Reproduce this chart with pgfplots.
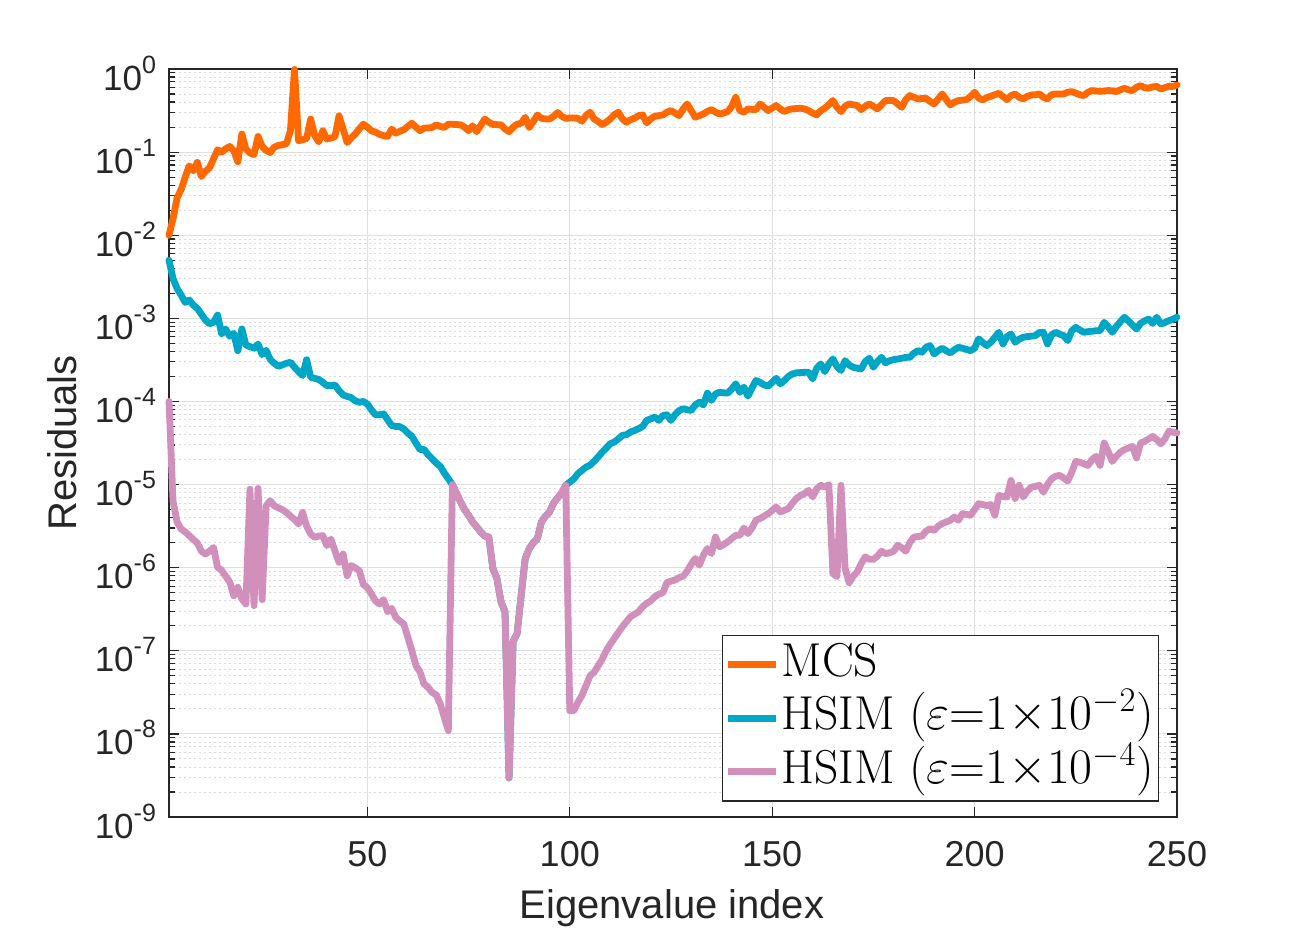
\documentclass[border=0pt]{standalone}
\usepackage{pgfplots}
\pgfplotsset{compat=1.18}
\usepackage{fontspec}
\newfontfamily\arial{Liberation Sans}
\definecolor{mcs}{RGB}{255,105,0}
\definecolor{hs2}{RGB}{0,166,198}
\definecolor{hs4}{RGB}{209,143,187}
\definecolor{axgray}{RGB}{38,38,38}
\definecolor{gridc}{RGB}{223,223,223}
\definecolor{mgridc}{RGB}{218,218,218}
\newcommand\tsup[1]{\raisebox{8.5pt}{\fontsize{12.5}{13}\selectfont #1}}
\begin{document}
\begin{tikzpicture}
\useasboundingbox (-84.5pt,-55pt) rectangle (566pt,408.5pt);
\begin{axis}[
  scale only axis, width=504pt, height=374pt,
  ymode=log, xmin=1, xmax=250, ymin=1e-9, ymax=1,
  clip=false,
  xtick={50,100,150,200,250},
  xticklabels={50,100,150,200,250},
  ytick={1e-9,1e-8,1e-7,1e-6,1e-5,1e-4,1e-3,1e-2,1e-1,1},
  yticklabels={10\tsup{-9},10\tsup{-8},10\tsup{-7},10\tsup{-6},10\tsup{-5},10\tsup{-4},10\tsup{-3},10\tsup{-2},10\tsup{-1},10\tsup{0}},
  xticklabel style={font=\arial\fontsize{18}{20}\selectfont, text=axgray, yshift=-8.5pt},
  yticklabel style={font=\arial\fontsize{17.5}{20}\selectfont, text=axgray, yshift=-2pt, xshift=-3pt},
  xmajorgrids, ymajorgrids, yminorgrids,
  major grid style={draw=gridc, line width=0.5pt},
  minor grid style={draw=mgridc, line width=0.45pt, dash pattern=on 1pt off 1.5pt},
  axis line style={draw=axgray, line width=0.6pt},
  tick style={draw=axgray, line width=0.6pt},
  major tick length=5pt, minor tick length=3pt,
  tick align=inside,
  xlabel={Eigenvalue index}, ylabel={Residuals},
  label style={font=\arial\fontsize{20}{22}\selectfont, text=axgray},
  xlabel style={at={(axis description cs:0.499,-0.136)}, anchor=base},
  ylabel style={at={(axis description cs:-0.0913,0.5)}, anchor=base},
  legend style={at={(0.9825,0.0205)}, anchor=south east, draw=axgray, line width=0.6pt,
    font=\fontsize{23.8}{29}\selectfont, inner xsep=1.2pt, inner ysep=1.25pt, row sep=0pt,
    nodes={inner sep=1.125pt, text height=18pt, text depth=6.55pt}},
  legend cell align=left,
  legend image code/.code={\draw[#1, line width=3.4pt, line cap=butt] (0pt,0pt) -- (24pt,0pt);},
  every axis plot/.append style={line width=3.4pt, line join=round, line cap=round},
]
\addplot[mcs] coordinates {
(1,1.0e-2) (2,1.58e-2) (3,2.82e-2) (4,3.55e-2) (5,5.0e-2) (6,6.84e-2) (7,5.96e-2) (8,7.52e-2) (9,5.09e-2) (10,5.9e-2)
(11,6.46e-2) (12,8.3e-2) (13,0.1067) (14,0.1) (15,0.1096) (16,0.117) (17,0.1038) (18,0.0766) (19,0.165) (20,0.1086)
(21,0.0977) (22,0.0933) (23,0.1545) (24,0.1175) (25,0.1047) (26,0.099) (27,0.1148) (28,0.1202) (29,0.123) (30,0.126)
(31,0.181) (32,0.99) (33,0.137) (34,0.141) (35,0.146) (36,0.25) (37,0.158) (38,0.133) (39,0.181) (40,0.1435)
(41,0.148) (42,0.153) (43,0.274) (44,0.19) (45,0.1306) (46,0.148) (47,0.165) (48,0.19) (49,0.217) (50,0.2)
(51,0.181) (52,0.174) (53,0.164) (54,0.158) (55,0.1545) (56,0.189) (57,0.169) (58,0.178) (59,0.186) (60,0.204)
(61,0.223) (62,0.2) (63,0.181) (64,0.1945) (65,0.195) (66,0.198) (67,0.213) (68,0.204) (69,0.198) (70,0.217)
(71,0.216) (72,0.215) (73,0.213) (74,0.2) (75,0.181) (76,0.207) (77,0.176) (78,0.209) (79,0.25) (80,0.229)
(81,0.215) (82,0.214) (83,0.213) (84,0.19) (85,0.176) (86,0.2) (87,0.217) (88,0.223) (89,0.262) (90,0.198)
(91,0.234) (92,0.279) (93,0.255) (94,0.251) (95,0.25) (96,0.269) (97,0.30) (98,0.27) (99,0.255) (100,0.257)
(101,0.257) (102,0.256) (103,0.2355) (104,0.275) (105,0.302) (106,0.251) (107,0.234) (108,0.215) (109,0.229) (110,0.251)
(111,0.282) (112,0.302) (113,0.251) (114,0.229) (115,0.245) (116,0.256) (117,0.275) (118,0.2805) (119,0.225) (120,0.251)
(121,0.27) (122,0.275) (123,0.28) (124,0.302) (125,0.316) (126,0.295) (127,0.275) (128,0.331) (129,0.38) (130,0.316)
(131,0.263) (132,0.275) (133,0.288) (134,0.309) (135,0.325) (136,0.302) (137,0.288) (138,0.295) (139,0.3076) (140,0.355)
(141,0.457) (142,0.316) (143,0.302) (144,0.331) (145,0.327) (146,0.325) (147,0.38) (148,0.347) (149,0.316) (150,0.339)
(151,0.363) (152,0.331) (153,0.3076) (154,0.324) (155,0.331) (156,0.335) (157,0.337) (158,0.331) (159,0.316) (160,0.295)
(161,0.2805) (162,0.316) (163,0.337) (164,0.372) (165,0.417) (166,0.347) (167,0.3076) (168,0.355) (169,0.38) (170,0.372)
(171,0.363) (172,0.325) (173,0.355) (174,0.38) (175,0.355) (176,0.331) (177,0.372) (178,0.417) (179,0.417) (180,0.417)
(181,0.38) (182,0.347) (183,0.427) (184,0.479) (185,0.457) (186,0.437) (187,0.4416) (188,0.445) (189,0.407) (190,0.38)
(191,0.437) (192,0.501) (193,0.427) (194,0.37) (195,0.398) (196,0.417) (197,0.422) (198,0.4285) (199,0.468) (200,0.525)
(201,0.447) (202,0.427) (203,0.452) (204,0.47) (205,0.49) (206,0.51) (207,0.468) (208,0.4285) (209,0.479) (210,0.501)
(211,0.457) (212,0.437) (213,0.468) (214,0.4875) (215,0.49) (216,0.501) (217,0.457) (218,0.437) (219,0.49) (220,0.501)
(221,0.501) (222,0.501) (223,0.525) (224,0.5346) (225,0.513) (226,0.49) (227,0.479) (228,0.525) (229,0.55) (230,0.543)
(231,0.54) (232,0.543) (233,0.55) (234,0.547) (235,0.535) (236,0.562) (237,0.586) (238,0.562) (239,0.55) (240,0.603)
(241,0.631) (242,0.596) (243,0.589) (244,0.61) (245,0.619) (246,0.575) (247,0.596) (248,0.619) (249,0.617) (250,0.643)
};
\addlegendentry{MCS}
\addplot[hs2] coordinates {
(1,5.0e-3) (2,3.0e-3) (3,2.29e-3) (4,1.9e-3) (5,1.556e-3) (6,1.66e-3) (7,1.445e-3) (8,1.318e-3) (9,1.12e-3) (10,9.55e-4)
(11,8.6e-4) (12,8.95e-4) (13,1.096e-3) (14,6.49e-4) (15,7.45e-4) (16,6.08e-4) (17,6.6e-4) (18,4.08e-4) (19,7.45e-4) (20,4.78e-4)
(21,4.57e-4) (22,4.37e-4) (23,4.9e-4) (24,3.66e-4) (25,4.12e-4) (26,3.21e-4) (27,2.88e-4) (28,2.65e-4) (29,2.75e-4) (30,2.88e-4)
(31,2.96e-4) (32,2.58e-4) (33,2.29e-4) (34,2.05e-4) (35,3.18e-4) (36,1.95e-4) (37,1.9e-4) (38,1.84e-4) (39,1.7e-4) (40,1.55e-4)
(41,1.55e-4) (42,1.58e-4) (43,1.35e-4) (44,1.2e-4) (45,1.15e-4) (46,1.11e-4) (47,1.02e-4) (48,9.77e-5) (49,1.0e-4) (50,9.33e-5)
(51,7.94e-5) (52,6.92e-5) (53,6.92e-5) (54,7.08e-5) (55,6.03e-5) (56,5.13e-5) (57,5.01e-5) (58,4.98e-5) (59,4.68e-5) (60,4.17e-5)
(61,3.8e-5) (62,3.16e-5) (63,2.64e-5) (64,2.64e-5) (65,2.29e-5) (66,2.04e-5) (67,1.82e-5) (68,1.66e-5) (69,1.38e-5) (70,1.175e-5)
(71,1.0e-5) (72,7.9e-6) (73,6.2e-6) (74,5.0e-6) (75,4.27e-6) (76,3.55e-6) (77,3.1e-6) (78,2.69e-6) (79,2.4e-6) (80,2.34e-6)
(81,9.8e-7) (82,7.4e-7) (83,3.9e-7) (84,2.95e-7) (85,2.95e-9) (86,1.29e-7) (87,1.62e-7) (88,4.68e-7) (89,1.29e-6) (90,1.7e-6)
(91,2.0e-6) (92,2.24e-6) (93,3.55e-6) (94,4.17e-6) (95,4.68e-6) (96,6.0e-6) (97,6.9e-6) (98,7.9e-6) (99,9.8e-6) (100,1.07e-5)
(101,1.17e-5) (102,1.35e-5) (103,1.48e-5) (104,1.62e-5) (105,1.71e-5) (106,1.9e-5) (107,2.15e-5) (108,2.45e-5) (109,2.75e-5) (110,3.1e-5)
(111,3.24e-5) (112,3.55e-5) (113,3.91e-5) (114,3.98e-5) (115,4.29e-5) (116,4.47e-5) (117,4.7e-5) (118,5.0e-5) (119,5.92e-5) (120,6.17e-5)
(121,6.49e-5) (122,5.92e-5) (123,6.76e-5) (124,6.92e-5) (125,5.92e-5) (126,6.92e-5) (127,7.76e-5) (128,8.17e-5) (129,7.94e-5) (130,7.8e-5)
(131,9.1e-5) (132,9.8e-5) (133,9.1e-5) (134,1.26e-4) (135,1.03e-4) (136,1.23e-4) (137,1.29e-4) (138,1.27e-4) (139,1.26e-4) (140,1.41e-4)
(141,1.63e-4) (142,1.29e-4) (143,1.49e-4) (144,1.16e-4) (145,1.45e-4) (146,1.79e-4) (147,1.7e-4) (148,1.58e-4) (149,1.53e-4) (150,1.7e-4)
(151,1.9e-4) (152,1.63e-4) (153,1.78e-4) (154,2.0e-4) (155,2.14e-4) (156,2.21e-4) (157,2.23e-4) (158,2.24e-4) (159,2.25e-4) (160,1.87e-4)
(161,2.51e-4) (162,2.83e-4) (163,2.29e-4) (164,2.82e-4) (165,3.25e-4) (166,2.63e-4) (167,2.36e-4) (168,3.1e-4) (169,2.75e-4) (170,2.58e-4)
(171,2.51e-4) (172,2.47e-4) (173,3.02e-4) (174,3.31e-4) (175,2.58e-4) (176,3.02e-4) (177,3.4e-4) (178,2.91e-4) (179,3.09e-4) (180,3.19e-4)
(181,3.24e-4) (182,3.31e-4) (183,3.39e-4) (184,3.4e-4) (185,3.8e-4) (186,4.09e-4) (187,3.91e-4) (188,4.47e-4) (189,4.7e-4) (190,3.73e-4)
(191,4.07e-4) (192,4.37e-4) (193,4.07e-4) (194,3.84e-4) (195,4.17e-4) (196,4.49e-4) (197,4.37e-4) (198,4.22e-4) (199,4.09e-4) (200,4.37e-4)
(201,5.65e-4) (202,5.13e-4) (203,4.7e-4) (204,5.15e-4) (205,5.89e-4) (206,6.79e-4) (207,4.92e-4) (208,6.03e-4) (209,6.49e-4) (210,5.15e-4)
(211,5.62e-4) (212,5.92e-4) (213,6.03e-4) (214,6.1e-4) (215,6.19e-4) (216,6.76e-4) (217,6.79e-4) (218,4.92e-4) (219,6.31e-4) (220,6.79e-4)
(221,6.46e-4) (222,6.19e-4) (223,5.4e-4) (224,7.08e-4) (225,7.8e-4) (226,7.24e-4) (227,6.79e-4) (228,6.92e-4) (229,7.0e-4) (230,7.08e-4)
(231,7.11e-4) (232,8.95e-4) (233,7.94e-4) (234,6.79e-4) (235,7.94e-4) (236,9.1e-4) (237,1.03e-3) (238,9.33e-4) (239,8.3e-4) (240,7.45e-4)
(241,8.7e-4) (242,9.33e-4) (243,9.8e-4) (244,8.7e-4) (245,1.03e-3) (246,8.55e-4) (247,8.9e-4) (248,9.38e-4) (249,9.77e-4) (250,1.03e-3)
};
\addlegendentry{HSIM $(\varepsilon{=}1{\times}10^{-2})$}
\addplot[hs4] coordinates {
(1,1.0e-4) (2,6.3e-6) (3,3.55e-6) (4,2.92e-6) (5,2.69e-6) (6,2.43e-6) (7,2.19e-6) (8,1.98e-6) (9,1.58e-6) (10,1.46e-6)
(11,1.58e-6) (12,1.75e-6) (13,1.01e-6) (14,9.3e-7) (15,7.9e-7) (16,6.76e-7) (17,4.6e-7) (18,5.8e-7) (19,4.2e-7) (20,3.66e-7)
(21,8.8e-6) (22,3.49e-7) (23,9.0e-6) (24,4.12e-7) (25,5.56e-6) (26,6.4e-6) (27,5.56e-6) (28,5.25e-6) (29,5.0e-6) (30,4.62e-6)
(31,4.17e-6) (32,3.8e-6) (33,3.35e-6) (34,4.62e-6) (35,3.16e-6) (36,2.54e-6) (37,2.32e-6) (38,2.4e-6) (39,2.43e-6) (40,1.84e-6)
(41,2.21e-6) (42,1.58e-6) (43,1.16e-6) (44,1.46e-6) (45,8.0e-7) (46,1.06e-6) (47,1.0e-6) (48,9.2e-7) (49,6.3e-7) (50,5.75e-7)
(51,4.82e-7) (52,3.98e-7) (53,3.66e-7) (54,4.12e-7) (55,2.96e-7) (56,3.24e-7) (57,2.53e-7) (58,2.29e-7) (59,2.1e-7) (60,1.45e-7)
(61,1.0e-7) (62,6.6e-8) (63,5.6e-8) (64,3.99e-8) (65,3.63e-8) (66,3.16e-8) (67,2.95e-8) (68,2.3e-8) (69,1.58e-8) (70,1.1e-8)
(71,1.0e-5) (72,7.9e-6) (73,6.2e-6) (74,5.0e-6) (75,4.27e-6) (76,3.55e-6) (77,3.1e-6) (78,2.69e-6) (79,2.4e-6) (80,2.34e-6)
(81,9.8e-7) (82,7.4e-7) (83,3.9e-7) (84,2.95e-7) (85,2.95e-9) (86,1.29e-7) (87,1.62e-7) (88,4.68e-7) (89,1.29e-6) (90,1.7e-6)
(91,2.0e-6) (92,2.24e-6) (93,3.55e-6) (94,4.17e-6) (95,4.68e-6) (96,6.0e-6) (97,6.9e-6) (98,7.9e-6) (99,9.8e-6) (100,1.9e-8)
(101,1.9e-8) (102,2.4e-8) (103,2.89e-8) (104,3.8e-8) (105,5.0e-8) (106,5.5e-8) (107,6.6e-8) (108,7.9e-8) (109,1.0e-7) (110,1.2e-7)
(111,1.41e-7) (112,1.66e-7) (113,1.95e-7) (114,2.24e-7) (115,2.57e-7) (116,2.75e-7) (117,2.95e-7) (118,3.39e-7) (119,3.72e-7) (120,3.98e-7)
(121,4.47e-7) (122,4.79e-7) (123,5.0e-7) (124,6.6e-7) (125,6.9e-7) (126,7.1e-7) (127,7.6e-7) (128,7.9e-7) (129,9.1e-7) (130,1.1e-6)
(131,1.29e-6) (132,1.07e-6) (133,1.41e-6) (134,1.7e-6) (135,1.48e-6) (136,2.34e-6) (137,1.78e-6) (138,1.9e-6) (139,2.04e-6) (140,2.24e-6)
(141,2.45e-6) (142,2.45e-6) (143,3.0e-6) (144,2.57e-6) (145,3.0e-6) (146,3.72e-6) (147,3.9e-6) (148,4.17e-6) (149,4.47e-6) (150,4.9e-6)
(151,5.37e-6) (152,4.68e-6) (153,4.9e-6) (154,5.13e-6) (155,6.0e-6) (156,6.8e-6) (157,7.4e-6) (158,7.8e-6) (159,8.5e-6) (160,7.1e-6)
(161,8.9e-6) (162,9.8e-6) (163,9.3e-6) (164,1.0e-5) (165,8.5e-7) (166,7.8e-7) (167,9.8e-6) (168,9.8e-7) (169,6.6e-7) (170,7.9e-7)
(171,8.9e-7) (172,1.12e-6) (173,1.35e-6) (174,1.26e-6) (175,1.26e-6) (176,1.38e-6) (177,1.58e-6) (178,1.48e-6) (179,1.51e-6) (180,1.58e-6)
(181,1.86e-6) (182,1.74e-6) (183,1.58e-6) (184,2.0e-6) (185,2.34e-6) (186,2.37e-6) (187,2.4e-6) (188,2.75e-6) (189,2.95e-6) (190,2.82e-6)
(191,3.16e-6) (192,3.39e-6) (193,3.55e-6) (194,3.72e-6) (195,4.07e-6) (196,3.72e-6) (197,4.47e-6) (198,4.37e-6) (199,4.27e-6) (200,5.0e-6)
(201,5.9e-6) (202,5.75e-6) (203,5.6e-6) (204,5.75e-6) (205,4.27e-6) (206,7.4e-6) (207,7.2e-6) (208,7.1e-6) (209,1.12e-5) (210,6.8e-6)
(211,9.8e-6) (212,7.1e-6) (213,8.3e-6) (214,9.3e-6) (215,9.5e-6) (216,9.8e-6) (217,8.1e-6) (218,1.0e-5) (219,1.17e-5) (220,1.26e-5)
(221,1.29e-5) (222,1.2e-5) (223,1.1e-5) (224,1.41e-5) (225,1.9e-5) (226,1.86e-5) (227,1.78e-5) (228,1.7e-5) (229,2.0e-5) (230,2.19e-5)
(231,1.7e-5) (232,3.16e-5) (233,2.51e-5) (234,1.9e-5) (235,2.19e-5) (236,2.45e-5) (237,2.63e-5) (238,2.75e-5) (239,2.88e-5) (240,2.09e-5)
(241,3.16e-5) (242,3.31e-5) (243,3.55e-5) (244,3.8e-5) (245,3.47e-5) (246,3.09e-5) (247,3.55e-5) (248,4.37e-5) (249,4.27e-5) (250,4.17e-5)
};
\addlegendentry{HSIM $(\varepsilon{=}1{\times}10^{-4})$}
\end{axis}
\end{tikzpicture}
\end{document}
